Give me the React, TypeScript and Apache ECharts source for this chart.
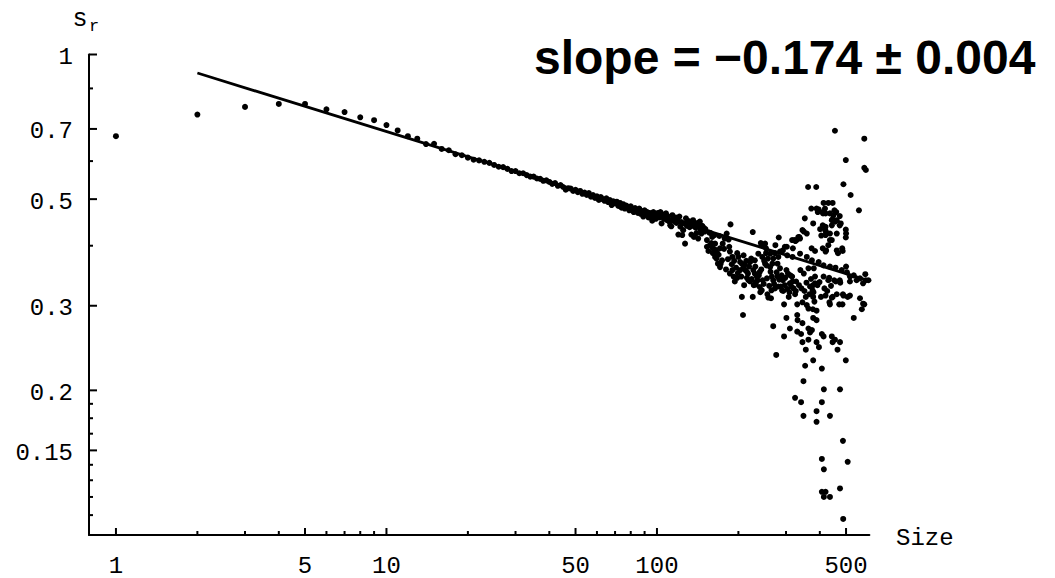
import React, { useEffect, useRef } from "react";
import * as echarts from "echarts";

// ---- data ----
const smallSizes = [1, 2, 3, 4, 5, 6, 7, 8, 9, 10, 11, 12, 13, 14, 15, 16];
const smallValues = [0.676, 0.75, 0.778, 0.789, 0.789, 0.769, 0.759, 0.74, 0.73, 0.713, 0.695, 0.676, 0.668, 0.651, 0.652, 0.636];

const midSizes = [17, 18, 19, 20, 21, 22, 23, 24, 25, 26, 27, 28, 29, 30, 31, 32, 33, 34, 35, 36, 37, 38, 39, 40,
  41, 42, 43, 44, 45, 46, 47, 48, 49, 50, 51, 52, 53, 54, 55, 56, 57, 58, 59, 60, 61, 62, 63, 64, 65, 66, 67, 68, 69, 70,
  71, 72, 73, 74, 75, 76, 77, 78, 79, 80, 81, 82, 83, 84, 85, 86, 87, 88, 89, 90, 91, 92, 93, 94, 95, 96, 97, 98, 99, 100];
const midValues = [0.632, 0.62, 0.617, 0.61, 0.604, 0.602, 0.598, 0.595, 0.589, 0.584, 0.583, 0.578, 0.572, 0.572, 0.566, 0.566,
  0.561, 0.557, 0.557, 0.552, 0.551, 0.546, 0.547, 0.543, 0.538, 0.54, 0.533, 0.535, 0.53, 0.523, 0.527, 0.526, 0.52, 0.523,
  0.517, 0.52, 0.513, 0.516, 0.51, 0.515, 0.506, 0.51, 0.503, 0.507, 0.498, 0.505, 0.5, 0.496, 0.502, 0.493, 0.498, 0.486,
  0.495, 0.49, 0.494, 0.484, 0.491, 0.48, 0.488, 0.478, 0.485, 0.482, 0.474, 0.483, 0.476, 0.47, 0.479, 0.472, 0.468, 0.478,
  0.466, 0.472, 0.46, 0.474, 0.465, 0.47, 0.458, 0.468, 0.462, 0.451, 0.47, 0.459, 0.455, 0.466];

const band100to150: [number, number][] = [
  [101, 0.468], [102, 0.458], [103, 0.47], [104, 0.445], [105, 0.462], [106, 0.455], [107, 0.465], [108, 0.467],
  [109, 0.452], [110, 0.46], [111, 0.449], [112, 0.441], [113, 0.439], [114, 0.463], [115, 0.455], [116, 0.45],
  [117, 0.458], [118, 0.446], [119, 0.454], [120, 0.422], [121, 0.46], [122, 0.438], [123, 0.448], [124, 0.421],
  [125, 0.431], [126, 0.445], [127, 0.404], [128, 0.456], [129, 0.44], [130, 0.447], [131, 0.45], [132, 0.437],
  [133, 0.444], [134, 0.422], [135, 0.44], [136, 0.452], [137, 0.417], [138, 0.443], [139, 0.436], [140, 0.425],
  [141, 0.446], [142, 0.414], [143, 0.438], [144, 0.449], [145, 0.432], [146, 0.424], [147, 0.44], [148, 0.43],
  [149, 0.436], [150, 0.428],
];

const scatter150to300: [number, number][] = [
  [151, 0.433], [153, 0.411], [153, 0.398], [155, 0.39], [156, 0.426], [157, 0.401], [158, 0.425], [160, 0.417],
  [161, 0.386], [161, 0.395], [163, 0.421], [164, 0.379], [164, 0.404], [166, 0.376], [167, 0.386], [168, 0.367],
  [170, 0.419], [171, 0.395], [171, 0.361], [172, 0.367], [175, 0.404], [178, 0.414], [180, 0.357], [181, 0.424],
  [184, 0.412], [186, 0.389], [186, 0.35], [187, 0.443], [190, 0.379], [190, 0.356], [192, 0.345], [194, 0.337],
  [198, 0.386], [198, 0.343], [200, 0.379], [203, 0.37], [203, 0.356], [206, 0.313], [206, 0.367], [208, 0.287],
  [209, 0.361], [209, 0.382], [210, 0.331], [212, 0.356], [215, 0.353], [215, 0.343], [218, 0.339], [221, 0.337],
  [221, 0.37], [223, 0.376], [226, 0.427], [226, 0.313], [228, 0.331], [230, 0.35], [230, 0.373], [232, 0.332],
  [232, 0.336], [234, 0.345], [237, 0.385], [240, 0.353], [240, 0.328], [241, 0.32], [242, 0.405], [244, 0.323],
  [244, 0.401], [245, 0.379], [246, 0.339], [251, 0.404], [251, 0.367], [253, 0.386], [253, 0.395], [254, 0.364],
  [256, 0.317], [258, 0.312], [262, 0.361], [262, 0.385], [263, 0.353], [264, 0.311], [265, 0.323], [269, 0.339],
  [269, 0.376], [269, 0.272], [273, 0.326], [273, 0.386], [274, 0.401], [276, 0.237], [279, 0.367], [279, 0.345],
  [281, 0.329], [281, 0.379], [282, 0.416], [285, 0.389], [285, 0.359], [290, 0.323], [292, 0.391], [292, 0.339],
  [295, 0.302], [295, 0.259], [297, 0.331], [297, 0.398],
];

const denseCluster: [number, number][] = [
  [159, 0.405], [165, 0.392], [169, 0.383], [174, 0.373], [177, 0.394], [183, 0.375], [185, 0.398], [189, 0.366],
  [193, 0.372], [196, 0.36], [199, 0.351], [205, 0.345], [211, 0.366], [214, 0.372], [217, 0.35], [219, 0.362],
  [224, 0.341], [227, 0.356], [231, 0.362], [236, 0.339], [238, 0.347], [243, 0.357], [248, 0.333], [249, 0.372],
  [255, 0.342], [257, 0.376], [260, 0.33], [266, 0.345], [267, 0.367], [271, 0.333], [277, 0.352], [283, 0.34],
  [287, 0.329], [289, 0.347], [293, 0.322], [298, 0.343], [304, 0.325], [309, 0.32], [314, 0.329], [320, 0.326],
  [326, 0.322], [335, 0.331], [342, 0.326], [351, 0.322], [357, 0.335], [366, 0.317], [371, 0.341], [382, 0.306],
  [392, 0.331], [399, 0.336], [404, 0.313], [416, 0.326], [426, 0.322], [433, 0.343], [440, 0.33],
];

const scatter300to450: [number, number][] = [
  [301, 0.283], [301, 0.356], [302, 0.398], [303, 0.382], [305, 0.35], [307, 0.313], [310, 0.334], [310, 0.269],
  [311, 0.347], [316, 0.411], [316, 0.345], [317, 0.337], [317, 0.379], [318, 0.395], [322, 0.411], [324, 0.317],
  [324, 0.193], [325, 0.409], [327, 0.337], [328, 0.411], [330, 0.302], [330, 0.287], [331, 0.28], [330, 0.265],
  [333, 0.417], [336, 0.417], [338, 0.414], [338, 0.385], [339, 0.356], [341, 0.262], [341, 0.189], [345, 0.305],
  [345, 0.276], [345, 0.252], [345, 0.431], [348, 0.209], [348, 0.177], [349, 0.35], [349, 0.428], [352, 0.456],
  [353, 0.225], [355, 0.313], [355, 0.243], [358, 0.301], [358, 0.424], [358, 0.379], [362, 0.53], [363, 0.296],
  [363, 0.269], [363, 0.255], [363, 0.359], [368, 0.264], [368, 0.329], [372, 0.478], [373, 0.395], [374, 0.267],
  [374, 0.373], [378, 0.313], [379, 0.32], [378, 0.331], [377, 0.295], [378, 0.283], [378, 0.445], [380, 0.359],
  [378, 0.231], [376, 0.323], [384, 0.345], [384, 0.334], [384, 0.39], [388, 0.53], [389, 0.293], [389, 0.28],
  [389, 0.252], [389, 0.478], [389, 0.181], [389, 0.172], [393, 0.47], [396, 0.476], [396, 0.37], [397, 0.246],
  [401, 0.433], [405, 0.42], [407, 0.262], [407, 0.222], [407, 0.189], [407, 0.144], [407, 0.123], [410, 0.47],
  [410, 0.441], [410, 0.395], [411, 0.467], [413, 0.491], [413, 0.259], [413, 0.364], [413, 0.345], [414, 0.201],
  [414, 0.137], [414, 0.12], [418, 0.478], [420, 0.467], [420, 0.438], [421, 0.428], [420, 0.421], [420, 0.389],
  [419, 0.431], [420, 0.123], [420, 0.315], [422, 0.391], [430, 0.401], [430, 0.339], [430, 0.491], [436, 0.411],
  [436, 0.302], [434, 0.305], [436, 0.424], [436, 0.467], [436, 0.362], [436, 0.177], [436, 0.12], [443, 0.259],
  [443, 0.452], [443, 0.441], [443, 0.411], [443, 0.312], [446, 0.491], [446, 0.454], [446, 0.313], [446, 0.252],
  [449, 0.463],
];

const scatter450to610: [number, number][] = [
  [455, 0.694], [453, 0.474], [456, 0.449], [455, 0.255], [452, 0.339], [457, 0.36], [458, 0.337], [460, 0.47],
  [462, 0.452], [462, 0.424], [462, 0.391], [462, 0.317], [465, 0.243], [467, 0.386], [474, 0.461], [474, 0.441],
  [475, 0.252], [472, 0.302], [476, 0.335], [475, 0.201], [475, 0.125], [478, 0.445], [474, 0.339], [482, 0.356],
  [486, 0.39], [489, 0.537], [487, 0.317], [485, 0.302], [487, 0.157], [488, 0.108], [484, 0.395], [489, 0.315],
  [499, 0.603], [499, 0.432], [499, 0.416], [499, 0.231], [500, 0.424], [500, 0.362], [504, 0.352], [507, 0.313],
  [507, 0.142], [517, 0.345], [517, 0.337], [517, 0.315], [520, 0.51], [534, 0.283], [534, 0.347], [547, 0.339],
  [558, 0.474], [563, 0.342], [563, 0.311], [572, 0.295], [578, 0.334], [578, 0.303], [584, 0.668], [584, 0.581],
  [584, 0.302], [589, 0.349], [592, 0.575], [592, 0.339], [605, 0.339],
];

const fitLine: [number, number][] = [[2, 0.915], [610, 0.338]];

const xMajorTicks = [1, 5, 10, 50, 100, 500];
const xMajorLabels = ["1", "5", "10", "50", "100", "500"];
const xMinorTicks = [2, 3, 4, 6, 7, 8, 9, 20, 30, 40, 60, 70, 80, 90, 200, 300, 400];
const yMajorTicks = [1, 0.7, 0.5, 0.3, 0.2, 0.15];
const yMajorLabels = ["1", "0.7", "0.5", "0.3", "0.2", "0.15"];
const yMinorTicks = [0.85, 0.6, 0.4, 0.1875, 0.175, 0.1625, 0.14, 0.13, 0.12, 0.11];

const X_MIN = 0.795;
const X_MAX = 610;
const Y_MIN = 0.1;
const Y_MAX = 1;

const MONO = '"Liberation Mono", "DejaVu Sans Mono", monospace';

export default function App() {
  const ref = useRef<HTMLDivElement>(null);

  useEffect(() => {
    if (!ref.current) return;
    const chart = echarts.init(ref.current, undefined, { renderer: "svg" });

    const points: [number, number][] = [];
    smallSizes.forEach((s, i) => points.push([s, smallValues[i]]));
    midSizes.forEach((s, i) => points.push([s, midValues[i]]));
    points.push(...band100to150, ...scatter150to300, ...denseCluster, ...scatter300to450, ...scatter450to610);

    const black = "#000";

    const option: any = {
      animation: false,
      backgroundColor: "#fff",
      grid: { left: 89, top: 54.5, width: 780.4, height: 480.5, containLabel: false },
      xAxis: {
        type: "log",
        logBase: 10,
        min: X_MIN,
        max: X_MAX,
        axisLine: { show: true, onZero: false, lineStyle: { color: black, width: 2 } },
        axisTick: { show: false },
        axisLabel: { show: false },
        splitLine: { show: false },
      },
      yAxis: {
        type: "log",
        logBase: 10,
        min: Y_MIN,
        max: Y_MAX,
        axisLine: { show: true, onZero: false, lineStyle: { color: black, width: 2 } },
        axisTick: { show: false },
        axisLabel: { show: false },
        splitLine: { show: false },
      },
      series: [
        {
          type: "scatter",
          data: points,
          symbol: "circle",
          symbolSize: 6,
          itemStyle: { color: black, opacity: 1 },
          silent: true,
          z: 2,
        },
        {
          type: "line",
          data: fitLine,
          showSymbol: false,
          symbol: "none",
          lineStyle: { color: black, width: 2.8 },
          silent: true,
          z: 3,
        },
        {
          type: "custom",
          data: yMajorTicks.map((v) => [X_MIN, v]),
          silent: true,
          clip: false,
          z: 5,
          renderItem: (params: any, api: any) => {
            const p = api.coord([api.value(0), api.value(1)]);
            return {
              type: "group",
              children: [
                { type: "line", shape: { x1: p[0], y1: p[1], x2: p[0] + 8, y2: p[1] }, style: { stroke: black, lineWidth: 2 } },
                {
                  type: "text",
                  x: p[0] - 16,
                  y: p[1] + 3,
                  style: { text: yMajorLabels[params.dataIndex], fill: black, font: `24px ${MONO}`, lineHeight: 20, align: "right", verticalAlign: "middle" },
                },
              ],
            };
          },
        },
        {
          type: "custom",
          data: yMinorTicks.map((v) => [X_MIN, v]),
          silent: true,
          clip: false,
          z: 5,
          renderItem: (_params: any, api: any) => {
            const p = api.coord([api.value(0), api.value(1)]);
            return { type: "line", shape: { x1: p[0], y1: p[1], x2: p[0] + 4, y2: p[1] }, style: { stroke: black, lineWidth: 2 } };
          },
        },
        {
          type: "custom",
          data: xMajorTicks.map((v) => [v, Y_MIN]),
          silent: true,
          clip: false,
          z: 5,
          renderItem: (params: any, api: any) => {
            const p = api.coord([api.value(0), api.value(1)]);
            return {
              type: "group",
              children: [
                { type: "line", shape: { x1: p[0], y1: p[1], x2: p[0], y2: p[1] - 7 }, style: { stroke: black, lineWidth: 2 } },
                {
                  type: "text",
                  x: p[0],
                  y: p[1] + 31,
                  style: { text: xMajorLabels[params.dataIndex], fill: black, font: `24px ${MONO}`, lineHeight: 18, align: "center", verticalAlign: "middle" },
                },
              ],
            };
          },
        },
        {
          type: "custom",
          data: xMinorTicks.map((v) => [v, Y_MIN]),
          silent: true,
          clip: false,
          z: 5,
          renderItem: (_params: any, api: any) => {
            const p = api.coord([api.value(0), api.value(1)]);
            return { type: "line", shape: { x1: p[0], y1: p[1], x2: p[0], y2: p[1] - 4 }, style: { stroke: black, lineWidth: 2 } };
          },
        },
      ],
      graphic: [
        {
          type: "text",
          left: 534,
          top: 33,
          style: { text: "slope = \u22120.174 \u00b1 0.004", fill: black, font: 'bold 48px "Liberation Sans", Arial, sans-serif' },
        },
        {
          type: "text",
          x: 896,
          y: 538,
          style: { text: "Size", fill: black, font: `24px ${MONO}`, align: "left", verticalAlign: "middle" },
        },
        {
          type: "text",
          x: 80,
          y: 19,
          style: { text: "s", fill: black, font: `25px ${MONO}`, align: "center", verticalAlign: "middle" },
        },
        {
          type: "text",
          x: 94,
          y: 26,
          style: { text: "r", fill: black, font: `17px ${MONO}`, align: "center", verticalAlign: "middle" },
        },
      ],
    };

    chart.setOption(option);
    return () => chart.dispose();
  }, []);

  return (
    <div
      ref={ref}
      style={{ position: "fixed", left: 0, top: 0, width: 1055, height: 578, background: "#fff" }}
    />
  );
}
